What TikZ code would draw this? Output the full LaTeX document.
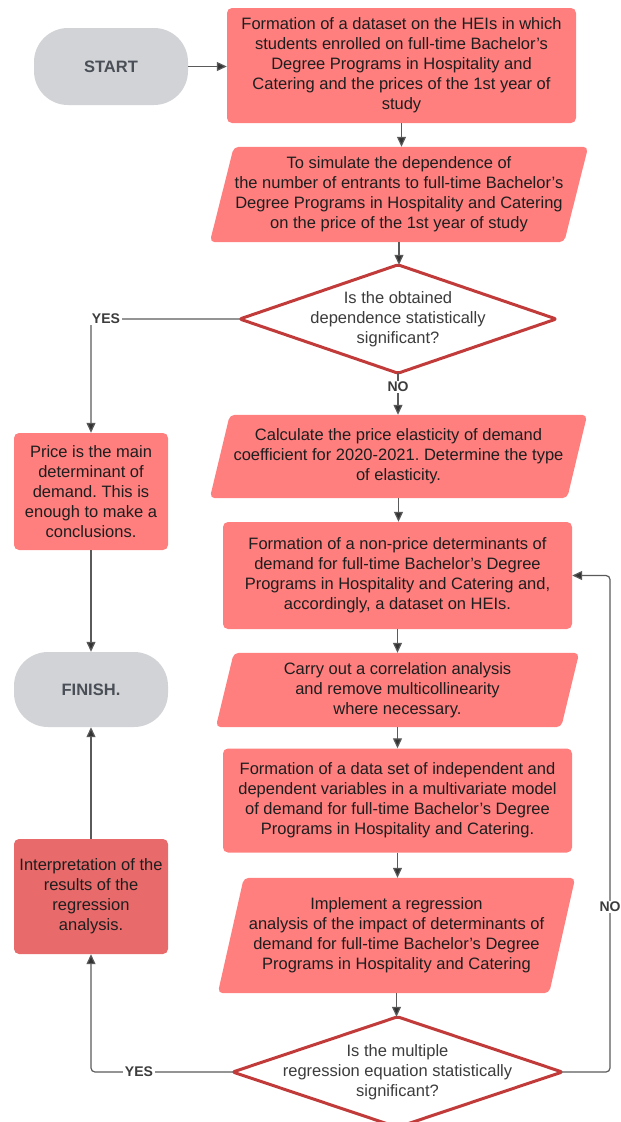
\documentclass[tikz,border=0pt]{standalone}
\usepackage{fontspec}
\setmainfont{Liberation Sans}
\usetikzlibrary{arrows.meta,backgrounds,calc}
\definecolor{boxred}{HTML}{FF7F7F}
\definecolor{boxdark}{HTML}{E96A6A}
\definecolor{dred}{HTML}{C23B3B}
\definecolor{pillgray}{HTML}{D2D3D6}
\definecolor{pilltext}{HTML}{4A4F57}
\definecolor{conncol}{HTML}{5A5A5A}
\definecolor{tipcol}{HTML}{333333}
\definecolor{txt}{HTML}{1E1E1E}
\definecolor{dtxt}{HTML}{3C3C3C}
\newcommand{\parashape}[2]{\fill[boxred, rounded corners=5pt] ($(#1.north west)+(#2,0)$) -- ($(#1.north east)+(#2,0)$) -- ($(#1.south east)-(#2,0)$) -- ($(#1.south west)-(#2,0)$) -- cycle;}
\newcommand{\diashape}[1]{\draw[dred, line width=3pt, fill=white, rounded corners=2pt, line join=round] (#1.north) -- (#1.east) -- (#1.south) -- (#1.west) -- cycle;}
\begin{document}
\begin{tikzpicture}[x=1pt,y=-1pt,
  every node/.style={font=\frenchspacing\fontsize{16.5}{20}\selectfont, text=txt, align=center, inner sep=0pt},
  rbox/.style={fill=boxred, rounded corners=5pt},
  pillbox/.style={fill=pillgray, rounded corners=34pt, text=pilltext, font=\bfseries\fontsize{16.5}{20}\selectfont},
  pnode/.style={},
  dnode/.style={text=dtxt},
  conn/.style={draw=conncol, line width=1.2pt, rounded corners=4pt, -{Triangle[length=10pt,width=9pt,fill=tipcol]}},
  lab/.style={font=\bfseries\fontsize{14}{16}\selectfont, text=dtxt, fill=white, inner sep=1.5pt}
]
\useasboundingbox (0,0) rectangle (621,1122);

\node[pillbox, minimum width=154pt, minimum height=77pt] (start) at (111,66.5) {START};
\node[rbox, minimum width=349pt, minimum height=115pt] (b1) at (401.5,65.5)
  {Formation of a dataset on the HEIs in which\\students enrolled on full-time Bachelor’s\\Degree Programs in Hospitality and\\Catering and the prices of the 1st year of\\study};
\node[pnode, minimum width=354pt, minimum height=95pt] (p1) at (399,194.5)
  {To simulate the dependence of\\the number of entrants to full-time Bachelor’s\\Degree Programs in Hospitality and Catering\\on the price of the 1st year of study};
\node[dnode, minimum width=316pt, minimum height=108pt] (d1) at (398,319)
  {Is the obtained\\dependence statistically\\significant?};
\node[pnode, minimum width=357pt, minimum height=83pt] (p2) at (398.5,456.5)
  {Calculate the price elasticity of demand\\coefficient for 2020-2021. Determine the type\\of elasticity.};
\node[rbox, minimum width=154pt, minimum height=117pt] (price) at (91,491.5)
  {Price is the main\\determinant of\\demand. This is\\enough to make a\\conclusions.};
\node[rbox, minimum width=349pt, minimum height=107pt] (b3) at (397.5,575.5)
  {Formation of a non-price determinants of\\demand for full-time Bachelor’s Degree\\Programs in Hospitality and Catering and,\\accordingly, a dataset on HEIs.};
\node[pillbox, minimum width=154pt, minimum height=75pt] (finish) at (91,689.5) {FINISH.};
\node[pnode, minimum width=345pt, minimum height=74pt] (p3) at (397.5,690)
  {Carry out a correlation analysis\\and remove multicollinearity\\where necessary.};
\node[rbox, minimum width=349pt, minimum height=104pt] (b4) at (397.5,800.5)
  {Formation of a data set of independent and\\dependent variables in a multivariate model\\of demand for full-time Bachelor’s Degree\\Programs in Hospitality and Catering.};
\node[rbox, fill=boxdark, minimum width=154pt, minimum height=115pt] (interp) at (91,896.5)
  {Interpretation of the\\results of the\\regression\\analysis.};
\node[pnode, minimum width=331pt, minimum height=115pt] (p4) at (396.5,935.5)
  {Implement a regression\\analysis of the impact of determinants of\\demand for full-time Bachelor’s Degree\\Programs in Hospitality and Catering};
\node[dnode, minimum width=329pt, minimum height=110pt] (d2) at (397.5,1072)
  {Is the multiple\\regression equation statistically\\significant?};

\begin{scope}[on background layer]
  \parashape{p1}{12}
  \parashape{p2}{10}
  \parashape{p3}{9}
  \parashape{p4}{13}
  \diashape{d1}
  \diashape{d2}
\end{scope}

\coordinate (nocol) at (610,800);

\draw[conn] (start.east) -- (start.east -| b1.west);
\draw[conn] (b1.south) -- (b1.south |- p1.north);
\draw[conn] (p1.south) -- (p1.south |- d1.north);
\draw[conn] (d1.south) -- (d1.south |- p2.north);
\draw[conn] (d1.west) -| (price.north);
\draw[conn] (p2.south) -- (p2.south |- b3.north);
\draw[conn] (price.south) -- (finish.north);
\draw[conn] (b3.south) -- (b3.south |- p3.north);
\draw[conn] (p3.south) -- (p3.south |- b4.north);
\draw[conn] (b4.south) -- (b4.south |- p4.north);
\draw[conn] (p4.south) -- (p4.south |- d2.north);
\draw[conn] (d2.west) -| (interp.south);
\draw[conn] (interp.north) -- (finish.south);
\draw[conn] (d2.east) -| (nocol) |- (b3.east);

\node[lab] (yes1) at (106,319) {YES};
\node[lab] (no1) at (398,387) {NO};
\node[lab] (yes2) at (139,1072) {YES};
\node[lab] (no2) at (610,907) {NO};
\end{tikzpicture}
\end{document}
